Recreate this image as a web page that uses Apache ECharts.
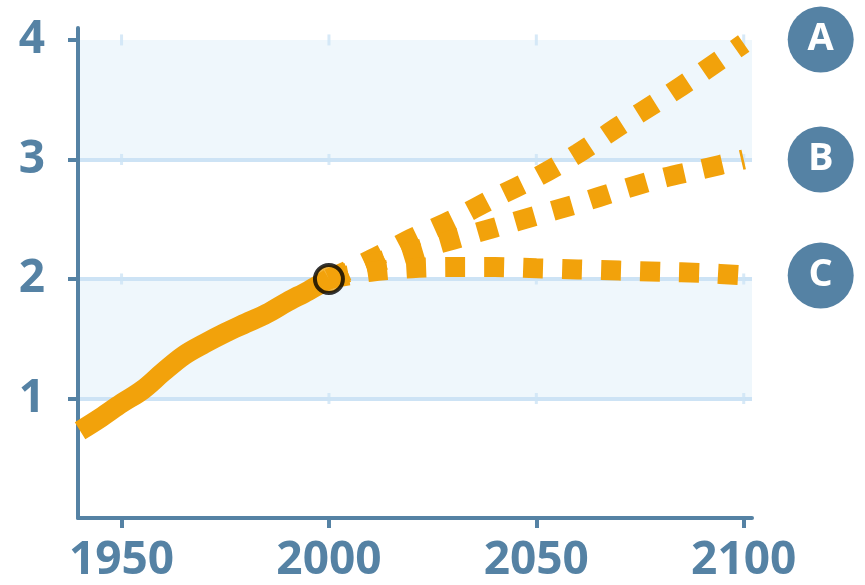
<!DOCTYPE html>
<html>
<head>
<meta charset="utf-8">
<script src="https://cdn.jsdelivr.net/npm/echarts@6/dist/echarts.min.js"></script>
<style>html,body{margin:0;padding:0;background:#fff;}#c{width:865px;height:585px;}</style>
</head>
<body>
<div id="c"></div>
<script>
// ---- data ----
const histYears  = [1940, 1945, 1950, 1955, 1960, 1965, 1970, 1975, 1980, 1985, 1990, 1995, 2000];
const histValues = [0.73, 0.84, 0.96, 1.07, 1.22, 1.36, 1.46, 1.55, 1.63, 1.71, 1.81, 1.90, 2.00];
const projYears  = [2000, 2010, 2020, 2030, 2040, 2050, 2060, 2070, 2080, 2090, 2100];
const scenarioA  = [2.00, 2.16, 2.34, 2.50, 2.68, 2.85, 3.05, 3.28, 3.50, 3.73, 3.97];
const scenarioB  = [2.00, 2.12, 2.23, 2.33, 2.43, 2.53, 2.63, 2.74, 2.84, 2.92, 3.00];
const scenarioC  = [2.00, 2.06, 2.09, 2.10, 2.10, 2.09, 2.08, 2.07, 2.06, 2.05, 2.03];
const scenarioNames = ['A', 'B', 'C'];
const xTicks = [1950, 2000, 2050, 2100];
const yTicks = [1, 2, 3, 4];
// shaded horizontal bands (pairs of y tick values)
const shadedBands = [[1, 2], [3, 4]];

// ---- styles ----
const ORANGE = '#f2a20b';
const AXIS = '#5582a4';
const GRIDLINE = '#cde3f5';
const SHADE = '#eff7fc';
const FONT = '"Open Sans", "DejaVu Sans", sans-serif';

const zip = (xs, ys) => xs.map((x, i) => [x, ys[i]]);

// small cross marks on grid lines at each x tick
const crossMarks = [];
yTicks.forEach(y => xTicks.forEach(x => crossMarks.push([x, y])));

function scenarioSeries(name, values, offsetY) {
  return {
    name: name,
    type: 'line',
    data: zip(projYears, values),
    smooth: 0.3,
    showSymbol: false,
    symbol: 'none',
    z: 3,
    lineStyle: { color: ORANGE, width: 20, type: [20, 19], cap: 'butt' },
    endLabel: {
      show: true,
      distance: 44,
      offset: [0, offsetY],
      formatter: '{b|' + name + '}',
      rich: {
        b: {
          width: 66, height: 66, lineHeight: 66,
          align: 'center', verticalAlign: 'middle',
          backgroundColor: AXIS, borderRadius: 33,
          color: '#ffffff', fontSize: 38, fontWeight: 'bold', fontFamily: FONT
        }
      }
    },
    emphasis: { disabled: true }
  };
}

const chart = echarts.init(document.getElementById('c'), null, { renderer: 'canvas' });
chart.setOption({
  animation: false,
  backgroundColor: '#ffffff',
  grid: { left: 78, right: 113, top: 28, bottom: 67, containLabel: false },
  xAxis: {
    type: 'value',
    min: 1939.5,
    max: 2102,
    axisLine: { show: true, lineStyle: { color: AXIS, width: 4 } },
    axisTick: { show: true, customValues: xTicks, length: 10, lineStyle: { color: AXIS, width: 4 } },
    axisLabel: {
      customValues: xTicks,
      formatter: v => String(v),
      color: AXIS, fontSize: 46, fontWeight: 'bold', fontFamily: FONT, margin: 20
    },
    splitLine: { show: false }
  },
  yAxis: {
    type: 'value',
    min: 0,
    max: 4.1,
    interval: 1,
    axisLine: { show: true, lineStyle: { color: AXIS, width: 4 } },
    axisTick: { show: true, customValues: yTicks, length: 10, lineStyle: { color: AXIS, width: 4 } },
    axisLabel: {
      customValues: yTicks,
      formatter: v => String(v),
      color: AXIS, fontSize: 46, fontWeight: 'bold', fontFamily: FONT, margin: 33
    },
    splitLine: { show: true, showMaxLine: false, lineStyle: { color: GRIDLINE, width: 4 } },
    splitArea: { show: false }
  },
  series: [
    {
      name: 'bands',
      type: 'line',
      data: [],
      z: -1,
      silent: true,
      markArea: {
        silent: true,
        z: -1,
        itemStyle: { color: SHADE },
        data: shadedBands.map(b => [{ yAxis: b[0] }, { yAxis: b[1] }])
      }
    },
    {
      name: 'marks',
      type: 'scatter',
      data: crossMarks,
      symbol: 'rect',
      symbolSize: [3, 11],
      itemStyle: { color: GRIDLINE },
      z: 1,
      silent: true
    },
    {
      name: 'history',
      type: 'line',
      data: zip(histYears, histValues),
      smooth: 0.35,
      showSymbol: false,
      symbol: 'none',
      z: 4,
      lineStyle: { color: ORANGE, width: 20, cap: 'butt', join: 'round' }
    },
    scenarioSeries('A', scenarioA, -4),
    scenarioSeries('B', scenarioB, 0),
    scenarioSeries('C', scenarioC, 0),
    {
      name: 'now',
      type: 'scatter',
      data: [[histYears[histYears.length - 1], histValues[histValues.length - 1]]],
      symbol: 'circle',
      symbolSize: 28,
      itemStyle: { color: ORANGE, borderColor: '#000000', borderWidth: 4 },
      z: 6,
      silent: true
    }
  ]
});
</script>
</body>
</html>
